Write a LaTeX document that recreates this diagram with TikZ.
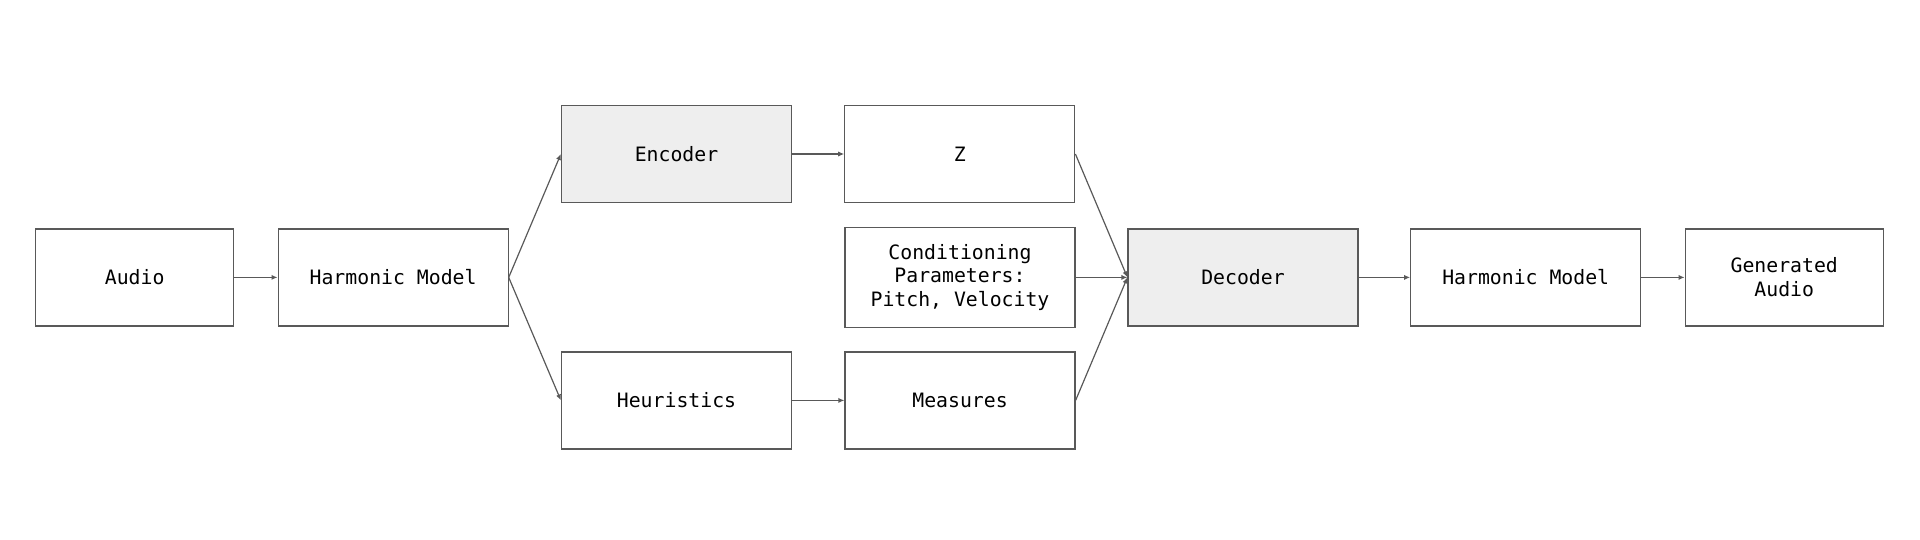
\documentclass[tikz,border=0pt]{standalone}
\usepackage{fontspec}
\setmonofont{DejaVu Sans Mono}
\usetikzlibrary{arrows.meta}
\definecolor{edge}{HTML}{595959}
\definecolor{shade}{HTML}{EEEEEE}
\tikzset{
  blk/.style={draw=edge, line width=0.6pt, fill=white, minimum height=48.5pt,
    align=center, inner sep=0pt, font=\ttfamily\fontsize{9.9}{11.9}\selectfont},
  wide/.style={blk, minimum width=115pt},
  narrow/.style={blk, minimum width=99pt},
  grey/.style={fill=shade},
  conn/.style={draw=edge, line width=0.6pt, -{Latex[length=3pt,width=2.6pt]}}
}
\begin{document}
\begin{tikzpicture}[x=0.5pt,y=-0.5pt]
\useasboundingbox (0,0) rectangle (1920,540);
\node[narrow] (audio) at (134.7,277.4) {Audio};
\node[wide] (hm1) at (393.1,277.4) {Harmonic Model};
\node[wide,grey] (enc) at (676.5,154) {Encoder};
\node[wide] (z) at (959.8,154) {Z};
\node[wide,minimum height=50pt] (cond) at (960,277.4) {Conditioning\\Parameters:\\Pitch, Velocity};
\node[wide] (heur) at (676.5,400.4) {Heuristics};
\node[wide] (meas) at (960,400.4) {Measures};
\node[wide,grey] (dec) at (1243,277.4) {Decoder};
\node[wide] (hm2) at (1525.7,277.4) {Harmonic Model};
\node[narrow] (gen) at (1784.2,277.4) {Generated\\Audio};
\draw[conn] (audio.east) -- (hm1.west);
\draw[conn] (hm1.east) -- (enc.west);
\draw[conn] (hm1.east) -- (heur.west);
\draw[conn] (enc.east) -- (z.west);
\draw[conn] (heur.east) -- (meas.west);
\draw[conn] (z.east) -- (dec.west);
\draw[conn] (cond.east) -- (dec.west);
\draw[conn] (meas.east) -- (dec.west);
\draw[conn] (dec.east) -- (hm2.west);
\draw[conn] (hm2.east) -- (gen.west);
\end{tikzpicture}
\end{document}
